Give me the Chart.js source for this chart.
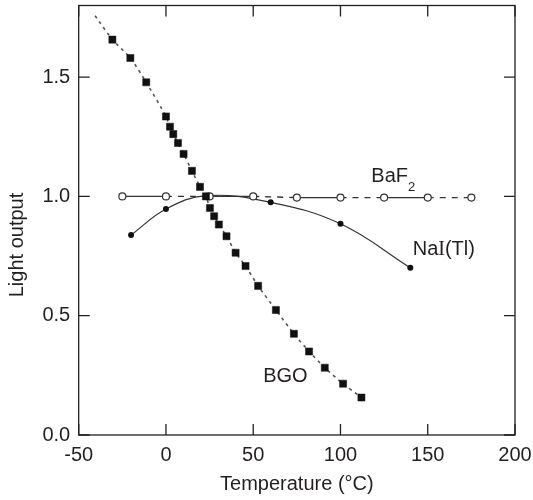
<!DOCTYPE html>
<html><head><meta charset="utf-8">
<script src="https://cdn.jsdelivr.net/npm/chart.js@4.4.1/dist/chart.umd.min.js"></script>
<style>html,body{margin:0;padding:0;background:#fff}#wrap{width:533px;height:500px}</style>
</head><body><div id="wrap"><canvas id="c"></canvas></div>
<script>
// ---- data ----
const xTicks = [-50, 0, 50, 100, 150, 200];
const yTicks = [0, 0.5, 1.0, 1.5];

const bgoTemp  = [-40.6, -30.7, -20.4, -11.3, 0, 2.3, 4.2, 6.9, 10.1, 14.9, 19.5, 22.9, 25.2, 27.6, 30.3, 34.7, 39.9, 45.6, 52.8, 63, 73.3, 82, 91, 101.5, 112];
const bgoLight = [1.757, 1.657, 1.580, 1.478, 1.335, 1.292, 1.261, 1.224, 1.178, 1.107, 1.040, 1.0, 0.951, 0.917, 0.882, 0.833, 0.764, 0.708, 0.625, 0.524, 0.424, 0.350, 0.282, 0.215, 0.157];

const naiTemp  = [-20, 0, 23, 60, 100, 140];
const naiLight = [0.838, 0.947, 1.003, 0.975, 0.885, 0.701];

const baf2Temp  = [-25, 0, 25, 50, 75, 100, 125, 150, 175];
const baf2Light = [1.0, 1.0, 1.0, 1.0, 0.995, 0.995, 0.995, 0.995, 0.995];

const seriesNames = ['BGO', 'NaI(Tl)', 'BaF2'];
const xTitle = 'Temperature (°C)';
const yTitle = 'Light output';

// ---- styling ----
const FONT = "'Liberation Sans', Arial, Helvetica, sans-serif";
const SERIF = "'Liberation Serif', 'Times New Roman', serif";
const INK = '#231f20';

const toXY = (xs, ys) => xs.map((v, i) => ({x: v, y: ys[i]}));

const decorPlugin = {
  id: 'decor',
  afterDraw(chart) {
    const {ctx, chartArea: a, scales: {x, y}} = chart;
    ctx.save();
    ctx.strokeStyle = INK;
    ctx.lineWidth = 1.3;
    ctx.strokeRect(a.left, a.top, a.right - a.left, a.bottom - a.top);
    const L = 11;
    ctx.beginPath();
    xTicks.forEach(v => {
      const p = x.getPixelForValue(v);
      ctx.moveTo(p, a.bottom); ctx.lineTo(p, a.bottom - L);
      ctx.moveTo(p, a.top); ctx.lineTo(p, a.top + L);
    });
    yTicks.forEach(v => {
      const p = y.getPixelForValue(v);
      ctx.moveTo(a.left, p); ctx.lineTo(a.left + L, p);
      ctx.moveTo(a.right, p); ctx.lineTo(a.right - L, p);
    });
    ctx.stroke();

    // series labels
    ctx.fillStyle = INK;
    ctx.textAlign = 'left';
    ctx.textBaseline = 'alphabetic';
    ctx.font = `20px ${FONT}`;
    // BaF2
    let px = x.getPixelForValue(117.7), py = y.getPixelForValue(1.06);
    ctx.fillText('BaF', px, py);
    const w = ctx.measureText('BaF').width;
    ctx.font = `13px ${FONT}`;
    ctx.fillText('2', px + w, py + 8.5);
    // NaI(Tl)
    ctx.font = `20px ${FONT}`;
    px = x.getPixelForValue(141.4); py = y.getPixelForValue(0.754);
    ctx.fillText('Na', px, py);
    let off = ctx.measureText('Na').width;
    ctx.font = `20px ${SERIF}`;
    ctx.fillText('I', px + off, py);
    off += ctx.measureText('I').width;
    ctx.font = `20px ${FONT}`;
    ctx.fillText('(Tl)', px + off, py);
    // BGO
    px = x.getPixelForValue(55.7); py = y.getPixelForValue(0.222);
    ctx.fillText('BGO', px, py);

    // y title
    ctx.translate(17.5, 245);
    ctx.rotate(-Math.PI / 2);
    ctx.textAlign = 'center';
    ctx.textBaseline = 'middle';
    ctx.fillText(yTitle, 0, 0);
    ctx.restore();
  }
};

new Chart(document.getElementById('c'), {
  type: 'line',
  data: {
    datasets: [
      {
        label: seriesNames[0],
        data: toXY(bgoTemp, bgoLight),
        order: 0,
        borderColor: '#555',
        borderWidth: 1.6,
        borderDash: [3, 4],
        tension: 0.2,
        pointStyle: 'rect',
        pointRadius: ctx => ctx.dataIndex === 0 ? 0 : 5,
        pointBackgroundColor: '#111',
        pointBorderColor: '#111',
        pointBorderWidth: 0.5,
        fill: false
      },
      {
        label: seriesNames[2],
        data: toXY(baf2Temp, baf2Light),
        order: 1,
        borderColor: '#333',
        borderWidth: 1.4,
        tension: 0,
        segment: { borderDash: ctx => (ctx.p0DataIndex % 2) ? [6, 6] : undefined },
        pointStyle: 'circle',
        pointRadius: 3.5,
        pointBackgroundColor: '#fff',
        pointBorderColor: '#333',
        pointBorderWidth: 1.2,
        fill: false
      },
      {
        label: seriesNames[1],
        data: toXY(naiTemp, naiLight),
        order: 2,
        borderColor: '#333',
        borderWidth: 1.2,
        tension: 0.4,
        pointStyle: 'circle',
        pointRadius: 3,
        pointBackgroundColor: '#111',
        pointBorderColor: '#111',
        pointBorderWidth: 0,
        fill: false
      }
    ]
  },
  options: {
    responsive: true,
    maintainAspectRatio: false,
    animation: false,
    events: [],
    layout: { padding: { top: 4, right: 18, left: 0, bottom: 0 } },
    plugins: { legend: { display: false }, tooltip: { enabled: false } },
    scales: {
      x: {
        type: 'linear', min: -50, max: 200,
        afterBuildTicks: s => { s.ticks = xTicks.map(v => ({value: v})); },
        grid: { display: false, drawTicks: false },
        border: { display: false },
        ticks: { font: { family: FONT, size: 20 }, color: INK, padding: 8, maxRotation: 0, autoSkip: false },
        title: { display: true, text: xTitle, font: { family: FONT, size: 20 }, color: INK, padding: { top: 0, bottom: 4 } },
        afterFit: s => { s.height = 65; s.paddingLeft = 0; s.paddingRight = 0; }
      },
      y: {
        type: 'linear', min: 0, max: 1.8,
        afterBuildTicks: s => { s.ticks = yTicks.map(v => ({value: v})); },
        grid: { display: false, drawTicks: false },
        border: { display: false },
        ticks: { font: { family: FONT, size: 20 }, color: INK, padding: 8.5, autoSkip: false, callback: v => Number(v).toFixed(1) },
        afterFit: s => { s.width = 78.7; s.paddingTop = 0; s.paddingBottom = 0; }
      }
    }
  },
  plugins: [decorPlugin]
});
</script>
</body></html>
